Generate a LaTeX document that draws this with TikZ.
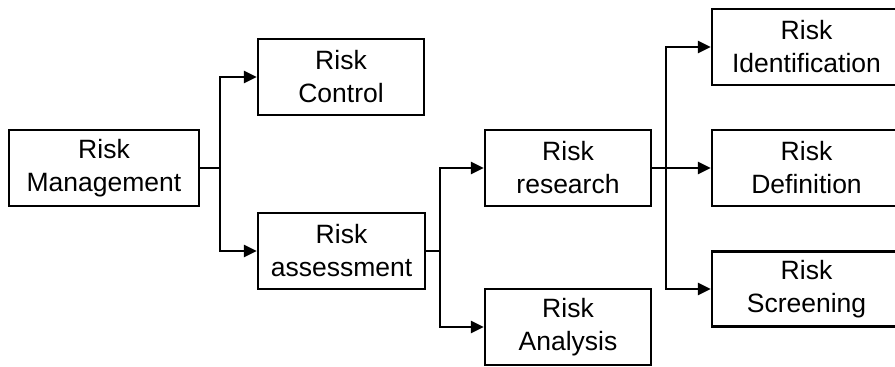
\documentclass[tikz,border=0pt]{standalone}
\usepackage{fontspec}
\setmainfont{Liberation Sans}
\usetikzlibrary{arrows.meta}
\begin{document}
\begin{tikzpicture}[x=1pt,y=-1pt,
  box/.style={draw=black,line width=2.3pt,inner sep=0pt,align=center,
    font=\fontsize{26.5}{33}\selectfont},
  link/.style={line width=2.3pt,-{Triangle[length=13pt,width=12pt]}},
  wire/.style={line width=2.3pt}]
\useasboundingbox (0,0) rectangle (895,367);
\node[box,minimum width=190pt,minimum height=76pt] (mgmt) at (104,168) {Risk\\Management};
\node[box,minimum width=166pt,minimum height=76pt] (control) at (341,77) {Risk\\Control};
\node[box,minimum width=167pt,minimum height=76pt] (assess) at (341.5,251) {Risk\\assessment};
\node[box,minimum width=166pt,minimum height=76pt] (research) at (568,168) {Risk\\research};
\node[box,minimum width=166pt,minimum height=76pt] (analysis) at (568,327) {Risk\\Analysis};
\node[box,minimum width=189pt,minimum height=76pt] (ident) at (806.5,47) {Risk\\Identification};
\node[box,minimum width=189pt,minimum height=76pt] (defn) at (806.5,168) {Risk\\Definition};
\node[box,minimum width=189pt,minimum height=75pt] (screen) at (806.5,289) {Risk\\Screening};
\coordinate (j1) at (220,168);
\coordinate (j2) at (440,251);
\coordinate (j3) at (666,168);
\draw[wire] (mgmt.east) -- (j1);
\draw[link] (j1) |- (control.west);
\draw[link] (j1) |- (assess.west);
\draw[wire] (assess.east) -- (j2);
\draw[link] (j2) |- (research.west);
\draw[link] (j2) |- (analysis.west);
\draw[link] (research.east) -- (defn.west);
\draw[link] (j3) |- (ident.west);
\draw[link] (j3) |- (screen.west);
\end{tikzpicture}
\end{document}
